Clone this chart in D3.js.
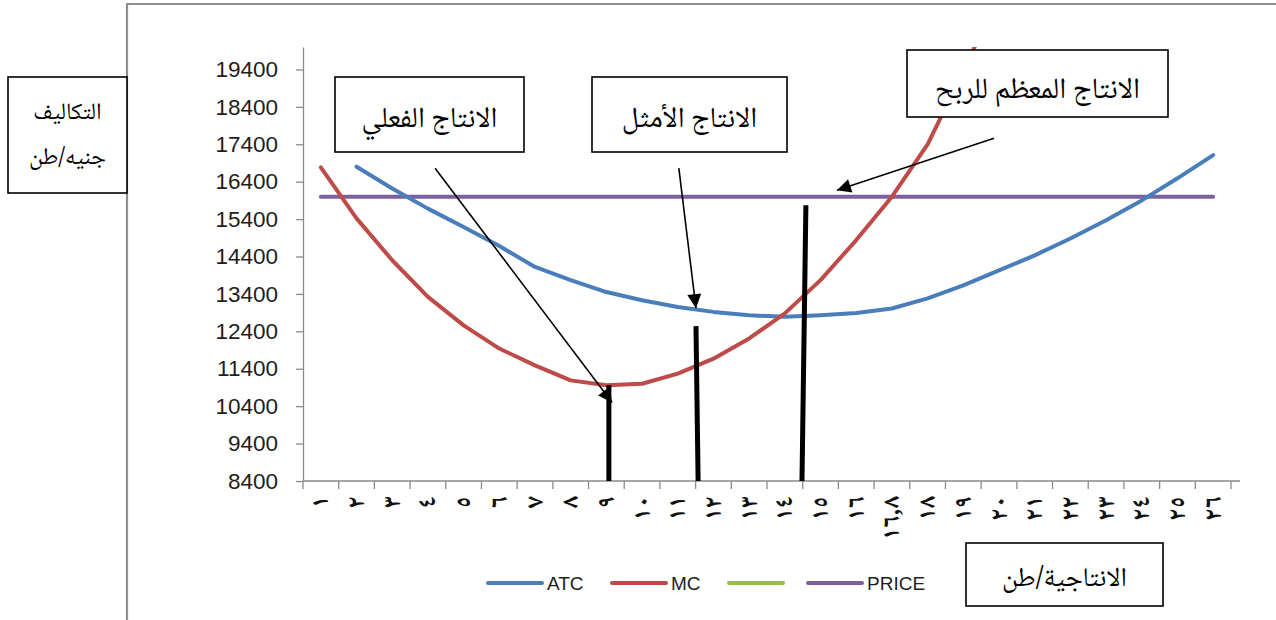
<!DOCTYPE html>
<html lang="ar">
<head>
<meta charset="utf-8">
<script src="https://cdn.jsdelivr.net/npm/d3@7"></script>
<style>
  html, body { margin: 0; padding: 0; background: #ffffff; }
  svg { display: block; }
  .ar { font-family: "Noto Naskh Arabic", "Noto Sans Arabic", "DejaVu Sans", sans-serif; }
  .num { font-family: "Liberation Sans", Arial, sans-serif; }
</style>
</head>
<body>
<svg id="chart" width="1276" height="620"></svg>
<script>
// Production quantity (tons) as printed on the category axis
const categories = ["١","٢","٣","٤","٥","٦","٧","٨","٩","١٠","١١","١٢","١٣",
                    "١٤","١٥","١٦","١٦,٨","١٨","١٩","٢٠","٢١","٢٢","٢٣","٢٤","٢٥","٢٦"];

// Average total cost (EGP / ton)
const atcValues = [null, 16800, 16220, 15680, 15190, 14680, 14120, 13770, 13450, 13230,
                   13050, 12920, 12830, 12790, 12830, 12890, 13010, 13280, 13630, 14030,
                   14430, 14880, 15370, 15900, 16490, 17110];

// Marginal cost (EGP / ton)
const mcValues = [16780, 15420, 14300, 13320, 12560, 11940, 11490, 11090, 10960, 11000,
                  11270, 11670, 12210, 12880, 13770, 14840, 16000, 17400, 19350, 21400,
                  null, null, null, null, null, null];

// Unnamed third series (no values plotted)
const thirdValues = [];

// Market price (EGP / ton)
const priceValues = [16000, 16000, 16000, 16000, 16000, 16000, 16000, 16000, 16000, 16000,
                     16000, 16000, 16000, 16000, 16000, 16000, 16000, 16000, 16000, 16000,
                     16000, 16000, 16000, 16000, 16000, 16000];

const seriesNames = ["ATC", "MC", "", "PRICE"];

// Value axis ticks
const yTicks = [8400, 9400, 10400, 11400, 12400, 13400, 14400, 15400, 16400, 17400, 18400, 19400];
const yMin = 8400, yMax = 20000;

// Quantity markers (category number, height in EGP / ton)
const quantityBars = [
  { qTop: 9.07,  qBottom: 9.07,  top: 10960 },   // actual output
  { qTop: 11.51, qBottom: 11.57, top: 12540 },   // optimal output
  { qTop: 14.59, qBottom: 14.48, top: 15770 }    // profit-maximising output
];

// Callout arrows (from label towards the curve), category number / EGP
const callouts = [
  { q1: 4.20,  v1: 16760, q2: 9.16,  v2: 10500 },
  { q1: 11.03, v1: 16760, q2: 11.51, v2: 13020 },
  { q1: 19.86, v1: 17560, q2: 15.46, v2: 16170 }
];

const colors = ["#4A7EBB", "#BE4B48", "#98B954", "#7D60A0"];

const svg = d3.select("#chart");

// Chart frame
svg.append("path")
  .attr("d", "M127,620 V4 H1276")
  .attr("fill", "none")
  .attr("stroke", "#8e8e8e")
  .attr("stroke-width", 2.2);

const plot = { left: 303, right: 1231, axisEnd: 1240, top: 47, bottom: 481 };

const x = d3.scaleBand().domain(categories).range([plot.left, plot.right]).padding(0);
const y = d3.scaleLinear().domain([yMin, yMax]).range([plot.bottom, plot.top]);
// Continuous position along the category axis (1 = first category)
const q = d3.scaleLinear().domain([1, categories.length])
  .range([x(categories[0]) + x.bandwidth() / 2, x(categories[categories.length - 1]) + x.bandwidth() / 2]);

// Y axis
const yAxis = svg.append("g")
  .attr("transform", `translate(${plot.left},0)`)
  .call(d3.axisLeft(y).tickValues(yTicks).tickFormat(d3.format("d"))
    .tickSize(7).tickSizeOuter(0).tickPadding(18));
yAxis.select(".domain").attr("stroke", "#8a8a8a").attr("stroke-width", 1.3);
yAxis.selectAll(".tick line").attr("stroke", "#8a8a8a").attr("stroke-width", 1.3);
yAxis.selectAll(".tick text")
  .attr("class", "num")
  .attr("font-size", 22.5)
  .attr("fill", "#1e1e1e");

// X axis line and tick marks between categories
svg.append("line")
  .attr("x1", plot.left).attr("x2", plot.axisEnd)
  .attr("y1", plot.bottom).attr("y2", plot.bottom)
  .attr("stroke", "#8a8a8a").attr("stroke-width", 1.3);

svg.append("g").selectAll("line")
  .data(d3.range(categories.length + 1))
  .join("line")
  .attr("x1", i => plot.left + i * x.step())
  .attr("x2", i => plot.left + i * x.step())
  .attr("y1", plot.bottom)
  .attr("y2", plot.bottom + 8)
  .attr("stroke", "#8a8a8a").attr("stroke-width", 1.3);

// Category labels, rotated to read bottom-to-top
svg.append("g").selectAll("text")
  .data(categories)
  .join("text")
  .attr("class", "ar")
  .attr("transform", d => `translate(${x(d) + x.bandwidth() / 2},496) rotate(-90)`)
  .attr("text-anchor", "end")
  .attr("dy", "0.3em")
  .attr("font-size", 25)
  .attr("font-weight", "bold")
  .attr("fill", "#111")
  .attr("direction", "ltr")
  .text(d => d);

// Series lines
const clipId = "plot-clip";
svg.append("clipPath").attr("id", clipId)
  .append("rect")
  .attr("x", plot.left).attr("y", plot.top)
  .attr("width", plot.axisEnd - plot.left).attr("height", plot.bottom - plot.top);

const line = d3.line()
  .defined(d => d.v != null)
  .x(d => x(d.c) + x.bandwidth() / 2)
  .y(d => y(d.v))
  .curve(d3.curveLinear);

const seriesData = [atcValues, mcValues, thirdValues, priceValues];
const lines = svg.append("g").attr("clip-path", `url(#${clipId})`);
[3, 0, 1].forEach(k => {
  const pts = seriesData[k].map((v, i) => ({ c: categories[i], v }));
  lines.append("path")
    .datum(pts)
    .attr("d", line)
    .attr("fill", "none")
    .attr("stroke", colors[k])
    .attr("stroke-width", 4)
    .attr("stroke-linejoin", "round")
    .attr("stroke-linecap", "round");
});

// Arrowhead marker
svg.append("defs").append("marker")
  .attr("id", "arrowhead")
  .attr("markerUnits", "userSpaceOnUse")
  .attr("viewBox", "0 0 10 10")
  .attr("refX", 10).attr("refY", 5)
  .attr("markerWidth", 15).attr("markerHeight", 14)
  .attr("orient", "auto")
  .append("path").attr("d", "M0,0 L10,5 L0,10 Z").attr("fill", "#000");

svg.append("g").selectAll("line")
  .data(callouts)
  .join("line")
  .attr("x1", d => q(d.q1)).attr("y1", d => y(d.v1))
  .attr("x2", d => q(d.q2)).attr("y2", d => y(d.v2))
  .attr("stroke", "#000").attr("stroke-width", 1.6)
  .attr("marker-end", "url(#arrowhead)");

// Quantity bars
svg.append("g").selectAll("line")
  .data(quantityBars)
  .join("line")
  .attr("x1", d => q(d.qBottom)).attr("y1", y(yMin))
  .attr("x2", d => q(d.qTop)).attr("y2", d => y(d.top))
  .attr("stroke", "#000").attr("stroke-width", 5);

// Text boxes
const boxes = [
  { x: 8,   y: 77,  w: 119, h: 116, lines: ["التكاليف", "جنيه/طن"], size: 23.5, ty: [111, 156] },
  { x: 335, y: 77,  w: 189, h: 75,  lines: ["الانتاج الفعلي"], size: 29, ty: [117] },
  { x: 592, y: 77,  w: 195, h: 75,  lines: ["الانتاج الأمثل"], size: 29, ty: [117] },
  { x: 907, y: 50,  w: 261, h: 67,  lines: ["الانتاج المعظم للربح"], size: 29.5, ty: [88] },
  { x: 966, y: 543, w: 197, h: 63,  lines: ["الانتاجية/طن"], size: 27, ty: [577] }
];
const boxG = svg.append("g").selectAll("g").data(boxes).join("g");
boxG.append("rect")
  .attr("x", d => d.x).attr("y", d => d.y)
  .attr("width", d => d.w).attr("height", d => d.h)
  .attr("fill", "#fff").attr("stroke", "#000").attr("stroke-width", 1.6);
boxG.each(function (d) {
  const g = d3.select(this);
  d.lines.forEach((t, i) => {
    g.append("text")
      .attr("class", "ar")
      .attr("x", d.x + d.w / 2)
      .attr("y", d.ty[i])
      .attr("dy", "0.35em")
      .attr("text-anchor", "middle")
      .attr("direction", "rtl")
      .attr("font-size", d.size)
      .attr("fill", "#000")
      .text(t);
  });
});

// Legend
const legendX = [488, 612, 729, 808];
const legend = svg.append("g").selectAll("g")
  .data(seriesNames)
  .join("g")
  .attr("transform", (d, i) => `translate(${legendX[i]},583)`);
legend.append("line")
  .attr("x1", 0).attr("x2", 54)
  .attr("stroke", (d, i) => colors[i])
  .attr("stroke-width", 4)
  .attr("stroke-linecap", "round");
legend.append("text")
  .attr("class", "num")
  .attr("x", 59)
  .attr("dy", "0.36em")
  .attr("font-size", 19)
  .attr("fill", "#1e1e1e")
  .text(d => d);
</script>
</body>
</html>
